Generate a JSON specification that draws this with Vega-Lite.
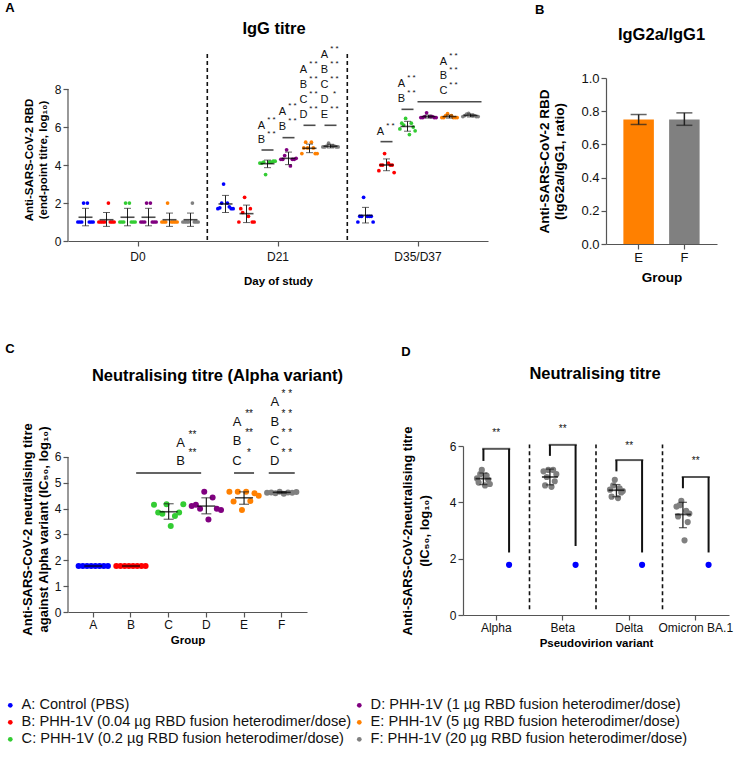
{
"$schema": "https://vega.github.io/schema/vega-lite/v6.json",
"padding": {"left": 3, "top": 1, "right": 2, "bottom": 2},
"datasets": {
"aPts": [
{"d":"D0","g":"A","id":"A1","v":1},{"d":"D0","g":"A","id":"A2","v":1},{"d":"D0","g":"A","id":"A3","v":1},{"d":"D0","g":"A","id":"A4","v":2},{"d":"D0","g":"A","id":"A5","v":2},{"d":"D0","g":"A","id":"A6","v":1},{"d":"D0","g":"A","id":"A7","v":1},{"d":"D0","g":"A","id":"A8","v":1},
{"d":"D0","g":"B","id":"B1","v":1},{"d":"D0","g":"B","id":"B2","v":1},{"d":"D0","g":"B","id":"B3","v":1},{"d":"D0","g":"B","id":"B4","v":1},{"d":"D0","g":"B","id":"B5","v":2},{"d":"D0","g":"B","id":"B6","v":1},{"d":"D0","g":"B","id":"B7","v":1},{"d":"D0","g":"B","id":"B8","v":1},
{"d":"D0","g":"C","id":"C1","v":1},{"d":"D0","g":"C","id":"C2","v":1},{"d":"D0","g":"C","id":"C3","v":1},{"d":"D0","g":"C","id":"C4","v":2},{"d":"D0","g":"C","id":"C5","v":2},{"d":"D0","g":"C","id":"C6","v":1},{"d":"D0","g":"C","id":"C7","v":1},{"d":"D0","g":"C","id":"C8","v":1},
{"d":"D0","g":"D","id":"D1","v":1},{"d":"D0","g":"D","id":"D2","v":1},{"d":"D0","g":"D","id":"D3","v":1},{"d":"D0","g":"D","id":"D4","v":2},{"d":"D0","g":"D","id":"D5","v":2},{"d":"D0","g":"D","id":"D6","v":1},{"d":"D0","g":"D","id":"D7","v":1},{"d":"D0","g":"D","id":"D8","v":1},
{"d":"D0","g":"E","id":"E1","v":1},{"d":"D0","g":"E","id":"E2","v":1},{"d":"D0","g":"E","id":"E3","v":1},{"d":"D0","g":"E","id":"E4","v":2},{"d":"D0","g":"E","id":"E5","v":1},{"d":"D0","g":"E","id":"E6","v":1},{"d":"D0","g":"E","id":"E7","v":1},{"d":"D0","g":"E","id":"E8","v":1},
{"d":"D0","g":"F","id":"F1","v":1},{"d":"D0","g":"F","id":"F2","v":1},{"d":"D0","g":"F","id":"F3","v":1},{"d":"D0","g":"F","id":"F4","v":1},{"d":"D0","g":"F","id":"F5","v":2},{"d":"D0","g":"F","id":"F6","v":1},{"d":"D0","g":"F","id":"F7","v":1},{"d":"D0","g":"F","id":"F8","v":1},
{"d":"D21","g":"A","id":"A1","v":1.7},{"d":"D21","g":"A","id":"A2","v":1.75},{"d":"D21","g":"A","id":"A3","v":2.0},{"d":"D21","g":"A","id":"A4","v":3.0},{"d":"D21","g":"A","id":"A5","v":2.0},{"d":"D21","g":"A","id":"A6","v":1.8},{"d":"D21","g":"A","id":"A7","v":1.7},{"d":"D21","g":"A","id":"A8","v":1.7},
{"d":"D21","g":"B","id":"B1","v":1.0},{"d":"D21","g":"B","id":"B2","v":1.7},{"d":"D21","g":"B","id":"B3","v":1.5},{"d":"D21","g":"B","id":"B4","v":2.3},{"d":"D21","g":"B","id":"B5","v":1.3},{"d":"D21","g":"B","id":"B6","v":1.7},{"d":"D21","g":"B","id":"B7","v":1.0},{"d":"D21","g":"B","id":"B8","v":1.0},
{"d":"D21","g":"C","id":"C1","v":4.1},{"d":"D21","g":"C","id":"C2","v":4.1},{"d":"D21","g":"C","id":"C3","v":4.15},{"d":"D21","g":"C","id":"C4","v":3.5},{"d":"D21","g":"C","id":"C5","v":4.15},{"d":"D21","g":"C","id":"C6","v":4.15},{"d":"D21","g":"C","id":"C7","v":4.2},{"d":"D21","g":"C","id":"C8","v":4.2},
{"d":"D21","g":"D","id":"D1","v":4.3},{"d":"D21","g":"D","id":"D2","v":4.3},{"d":"D21","g":"D","id":"D3","v":4.5},{"d":"D21","g":"D","id":"D4","v":4.8},{"d":"D21","g":"D","id":"D5","v":3.95},{"d":"D21","g":"D","id":"D6","v":4.3},{"d":"D21","g":"D","id":"D7","v":4.3},{"d":"D21","g":"D","id":"D8","v":4.35},
{"d":"D21","g":"E","id":"E1","v":4.6},{"d":"D21","g":"E","id":"E2","v":4.9},{"d":"D21","g":"E","id":"E3","v":5.2},{"d":"D21","g":"E","id":"E4","v":4.9},{"d":"D21","g":"E","id":"E5","v":5.2},{"d":"D21","g":"E","id":"E6","v":4.9},{"d":"D21","g":"E","id":"E7","v":4.6},{"d":"D21","g":"E","id":"E8","v":4.6},
{"d":"D21","g":"F","id":"F1","v":4.95},{"d":"D21","g":"F","id":"F2","v":4.95},{"d":"D21","g":"F","id":"F3","v":5.0},{"d":"D21","g":"F","id":"F4","v":5.15},{"d":"D21","g":"F","id":"F5","v":5.0},{"d":"D21","g":"F","id":"F6","v":5.0},{"d":"D21","g":"F","id":"F7","v":4.95},{"d":"D21","g":"F","id":"F8","v":4.95},
{"d":"D35/D37","g":"A","id":"A1","v":1.0},{"d":"D35/D37","g":"A","id":"A2","v":1.3},{"d":"D35/D37","g":"A","id":"A3","v":1.3},{"d":"D35/D37","g":"A","id":"A4","v":2.3},{"d":"D35/D37","g":"A","id":"A5","v":1.3},{"d":"D35/D37","g":"A","id":"A6","v":1.3},{"d":"D35/D37","g":"A","id":"A7","v":1.3},{"d":"D35/D37","g":"A","id":"A8","v":1.0},
{"d":"D35/D37","g":"B","id":"B1","v":3.7},{"d":"D35/D37","g":"B","id":"B2","v":4.0},{"d":"D35/D37","g":"B","id":"B3","v":4.0},{"d":"D35/D37","g":"B","id":"B4","v":4.6},{"d":"D35/D37","g":"B","id":"B5","v":4.1},{"d":"D35/D37","g":"B","id":"B6","v":4.0},{"d":"D35/D37","g":"B","id":"B7","v":4.0},{"d":"D35/D37","g":"B","id":"B8","v":3.6},
{"d":"D35/D37","g":"C","id":"C1","v":5.9},{"d":"D35/D37","g":"C","id":"C2","v":6.2},{"d":"D35/D37","g":"C","id":"C3","v":6.1},{"d":"D35/D37","g":"C","id":"C4","v":6.45},{"d":"D35/D37","g":"C","id":"C5","v":5.6},{"d":"D35/D37","g":"C","id":"C6","v":6.2},{"d":"D35/D37","g":"C","id":"C7","v":6.0},{"d":"D35/D37","g":"C","id":"C8","v":5.8},
{"d":"D35/D37","g":"D","id":"D1","v":6.5},{"d":"D35/D37","g":"D","id":"D2","v":6.5},{"d":"D35/D37","g":"D","id":"D3","v":6.55},{"d":"D35/D37","g":"D","id":"D4","v":6.75},{"d":"D35/D37","g":"D","id":"D5","v":6.55},{"d":"D35/D37","g":"D","id":"D6","v":6.55},{"d":"D35/D37","g":"D","id":"D7","v":6.5},{"d":"D35/D37","g":"D","id":"D8","v":6.5},
{"d":"D35/D37","g":"E","id":"E1","v":6.5},{"d":"D35/D37","g":"E","id":"E2","v":6.5},{"d":"D35/D37","g":"E","id":"E3","v":6.6},{"d":"D35/D37","g":"E","id":"E4","v":6.7},{"d":"D35/D37","g":"E","id":"E5","v":6.6},{"d":"D35/D37","g":"E","id":"E6","v":6.5},{"d":"D35/D37","g":"E","id":"E7","v":6.5},{"d":"D35/D37","g":"E","id":"E8","v":6.5},
{"d":"D35/D37","g":"F","id":"F1","v":6.55},{"d":"D35/D37","g":"F","id":"F2","v":6.6},{"d":"D35/D37","g":"F","id":"F3","v":6.68},{"d":"D35/D37","g":"F","id":"F4","v":6.72},{"d":"D35/D37","g":"F","id":"F5","v":6.6},{"d":"D35/D37","g":"F","id":"F6","v":6.6},{"d":"D35/D37","g":"F","id":"F7","v":6.55},{"d":"D35/D37","g":"F","id":"F8","v":6.55}
],
"aSum": [
{"d":"D0","g":"A","m":1.25,"lo":0.8,"hi":1.72},{"d":"D0","g":"B","m":1.12,"lo":0.77,"hi":1.5},{"d":"D0","g":"C","m":1.25,"lo":0.8,"hi":1.72},{"d":"D0","g":"D","m":1.25,"lo":0.8,"hi":1.72},{"d":"D0","g":"E","m":1.12,"lo":0.77,"hi":1.47},{"d":"D0","g":"F","m":1.12,"lo":0.77,"hi":1.47},
{"d":"D21","g":"A","m":1.95,"lo":1.5,"hi":2.4},{"d":"D21","g":"B","m":1.44,"lo":0.97,"hi":1.89},{"d":"D21","g":"C","m":4.07,"lo":3.86,"hi":4.26},{"d":"D21","g":"D","m":4.35,"lo":4.02,"hi":4.68},{"d":"D21","g":"E","m":4.88,"lo":4.65,"hi":5.1},{"d":"D21","g":"F","m":4.99,"lo":4.9,"hi":5.09},
{"d":"D35/D37","g":"A","m":1.35,"lo":0.95,"hi":1.77},{"d":"D35/D37","g":"B","m":4.0,"lo":3.7,"hi":4.32},{"d":"D35/D37","g":"C","m":6.03,"lo":5.78,"hi":6.3},{"d":"D35/D37","g":"D","m":6.55,"lo":6.47,"hi":6.63},{"d":"D35/D37","g":"E","m":6.55,"lo":6.47,"hi":6.63},{"d":"D35/D37","g":"F","m":6.61,"lo":6.53,"hi":6.69}
],
"aLet": [
{"d":"D21","g":"C","v":6.05,"t":"A","s":"* *"},{"d":"D21","g":"C","v":5.3,"t":"B","s":"* *"},
{"d":"D21","g":"D","v":6.79,"t":"A","s":"* *"},{"d":"D21","g":"D","v":6.0,"t":"B","s":"* *"},
{"d":"D21","g":"E","v":8.98,"t":"A","s":"* *"},{"d":"D21","g":"E","v":8.21,"t":"B","s":"* *"},{"d":"D21","g":"E","v":7.42,"t":"C","s":"* *"},{"d":"D21","g":"E","v":6.63,"t":"D","s":"* *"},
{"d":"D21","g":"F","v":9.79,"t":"A","s":"* *"},{"d":"D21","g":"F","v":8.98,"t":"B","s":"* *"},{"d":"D21","g":"F","v":8.21,"t":"C","s":"* *"},{"d":"D21","g":"F","v":7.42,"t":"D","s":"*"},{"d":"D21","g":"F","v":6.63,"t":"E","s":"* *"},
{"d":"D35/D37","g":"B","v":5.75,"t":"A","s":"* *"},
{"d":"D35/D37","g":"C","v":8.25,"t":"A","s":"* *"},{"d":"D35/D37","g":"C","v":7.46,"t":"B","s":"* *"},
{"d":"D35/D37","g":"E","v":9.44,"t":"A","s":"* *"},{"d":"D35/D37","g":"E","v":8.68,"t":"B","s":"* *"},{"d":"D35/D37","g":"E","v":7.9,"t":"C","s":"* *"}
],
"dPts": [
{"x":"Alpha","g":"F","id":"F1","v":4.85},{"x":"Alpha","g":"F","id":"F2","v":4.7},{"x":"Alpha","g":"F","id":"F3","v":5.0},{"x":"Alpha","g":"F","id":"F4","v":5.15},{"x":"Alpha","g":"F","id":"F5","v":4.6},{"x":"Alpha","g":"F","id":"F6","v":4.95},{"x":"Alpha","g":"F","id":"F7","v":4.8},{"x":"Alpha","g":"F","id":"F8","v":4.65},{"x":"Alpha","g":"A","id":"A","v":1.78},
{"x":"Beta","g":"F","id":"F1","v":5.1},{"x":"Beta","g":"F","id":"F2","v":4.6},{"x":"Beta","g":"F","id":"F3","v":4.9},{"x":"Beta","g":"F","id":"F4","v":5.15},{"x":"Beta","g":"F","id":"F5","v":4.55},{"x":"Beta","g":"F","id":"F6","v":5.15},{"x":"Beta","g":"F","id":"F7","v":4.75},{"x":"Beta","g":"F","id":"F8","v":5.0},{"x":"Beta","g":"A","id":"A","v":1.78},
{"x":"Delta","g":"F","id":"F1","v":4.45},{"x":"Delta","g":"F","id":"F2","v":4.2},{"x":"Delta","g":"F","id":"F3","v":4.6},{"x":"Delta","g":"F","id":"F4","v":4.8},{"x":"Delta","g":"F","id":"F5","v":4.15},{"x":"Delta","g":"F","id":"F6","v":4.5},{"x":"Delta","g":"F","id":"F7","v":4.35},{"x":"Delta","g":"F","id":"F8","v":4.4},{"x":"Delta","g":"A","id":"A","v":1.78},
{"x":"Omicron BA.1","g":"F","id":"F1","v":3.85},{"x":"Omicron BA.1","g":"F","id":"F2","v":3.5},{"x":"Omicron BA.1","g":"F","id":"F3","v":3.9},{"x":"Omicron BA.1","g":"F","id":"F4","v":4.05},{"x":"Omicron BA.1","g":"F","id":"F5","v":2.65},{"x":"Omicron BA.1","g":"F","id":"F6","v":3.7},{"x":"Omicron BA.1","g":"F","id":"F7","v":3.3},{"x":"Omicron BA.1","g":"F","id":"F8","v":3.6},{"x":"Omicron BA.1","g":"A","id":"A","v":1.78}
],
"dSum": [
{"x":"Alpha","g":"F","m":4.84,"lo":4.63,"hi":5.04},{"x":"Beta","g":"F","m":4.9,"lo":4.62,"hi":5.18},{"x":"Delta","g":"F","m":4.43,"lo":4.2,"hi":4.63},{"x":"Omicron BA.1","g":"F","m":3.57,"lo":3.1,"hi":4.0}
],
"dLegs": [
{"x":"Alpha","g":"F","lo":5.47,"hi":5.9},{"x":"Alpha","g":"A","lo":2.22,"hi":5.9},
{"x":"Beta","g":"F","lo":5.65,"hi":6.04},{"x":"Beta","g":"A","lo":2.45,"hi":6.04},
{"x":"Delta","g":"F","lo":5.1,"hi":5.5},{"x":"Delta","g":"A","lo":2.22,"hi":5.5},
{"x":"Omicron BA.1","g":"F","lo":4.5,"hi":4.9},{"x":"Omicron BA.1","g":"A","lo":2.22,"hi":4.9}
],
"dTop": [
{"x":"Alpha","top":5.9,"sy":6.45,"s":"**"},{"x":"Beta","top":6.04,"sy":6.6,"s":"**"},{"x":"Delta","top":5.5,"sy":6.0,"s":"**"},{"x":"Omicron BA.1","top":4.9,"sy":5.45,"s":"**"}
]
},
"resolve": {"scale": {"xOffset": "independent"}},
"spacing": 56,
"vconcat": [
{
"hconcat": [
{
"title": {"text": "A", "anchor": "start", "dx": -18, "fontSize": 13, "offset": 6},
"vconcat": [
{
"width": 420, "height": 163,
"title": {"text": "IgG titre", "frame": "group", "dx": -4, "offset": 8},
"encoding": {
"x": {"field": "d", "type": "nominal", "scale": {"domain": ["D0", "D21", "D35/D37"], "paddingInner": 0.1, "paddingOuter": 0.05}, "axis": {"title": "Day of study", "titlePadding": 13, "labelPadding": 5}}
},
"layer": [
{"data": {"name": "aPts"}, "mark": {"type": "circle", "size": 14, "opacity": 1},
 "encoding": {
  "xOffset": {"field": "id", "type": "nominal", "scale": {"paddingInner": 0, "paddingOuter": 0, "domain": ["Al","A1","A2","A3","A4","A","A5","A6","A7","A8","Ar","Bl","B1","B2","B3","B4","B","B5","B6","B7","B8","Br","Cl","C1","C2","C3","C4","C","C5","C6","C7","C8","Cr","Dl","D1","D2","D3","D4","D","D5","D6","D7","D8","Dr","El","E1","E2","E3","E4","E","E5","E6","E7","E8","Er","Fl","F1","F2","F3","F4","F","F5","F6","F7","F8","Fr"]}},
  "y": {"field": "v", "type": "quantitative", "scale": {"domain": [0, 8.58], "nice": false}, "axis": {"values": [0, 2, 4, 6, 8], "tickCount": 20, "format": "d", "labelOverlap": false, "domain": false, "title": ["Anti-SARS-CoV-2 RBD", "(end-point titre, log₁₀)"], "titlePadding": 6, "titleLineHeight": 14}},
  "color": {"field": "g", "type": "nominal",
   "legend": {"orient": "none", "legendX": -65, "legendY": 620, "title": null, "columns": 2, "columnPadding": -5, "rowPadding": 2, "labelFontSize": 14.6, "labelOffset": 4, "labelLimit": 480, "symbolType": "circle", "symbolSize": 22, "symbolStrokeWidth": 0, "labelColor": "#111111",
    "labelExpr": "{'A':'A: Control (PBS)','B':'B: PHH-1V (0.04 µg RBD fusion heterodimer/dose)','C':'C: PHH-1V (0.2 µg RBD fusion heterodimer/dose)','D':'D: PHH-1V (1 µg RBD fusion heterodimer/dose)','E':'E: PHH-1V (5 µg RBD fusion heterodimer/dose)','F':'F: PHH-1V (20 µg RBD fusion heterodimer/dose)'}[datum.label]"}}
 }},
{"data": {"values": [{"d": "D0"}]}, "mark": {"type": "rule", "strokeWidth": 1.2, "color": "#555555"},
 "encoding": {"x": {"field": "d", "type": "nominal", "bandPosition": -0.0556}, "y": {"datum": 0}, "y2": {"datum": 8}}},
{"data": {"values": [{"d": "D0"}, {"d": "D21"}]}, "mark": {"type": "rule", "strokeDash": [4, 3], "strokeWidth": 1.6, "color": "#111111"},
 "encoding": {"x": {"field": "d", "type": "nominal", "bandPosition": 1.05}, "y": {"datum": 0.05}, "y2": {"datum": 10}}},
{"data": {"name": "aSum"}, "mark": {"type": "rule", "color": "#222222", "strokeWidth": 1},
 "encoding": {"xOffset": {"field": "g", "type": "nominal"}, "y": {"field": "lo", "type": "quantitative"}, "y2": {"field": "hi"}}},
{"data": {"name": "aSum"}, "mark": {"type": "tick", "color": "#222222", "size": 7, "thickness": 1},
 "encoding": {"xOffset": {"field": "g", "type": "nominal"}, "y": {"field": "lo", "type": "quantitative"}}},
{"data": {"name": "aSum"}, "mark": {"type": "tick", "color": "#222222", "size": 7, "thickness": 1},
 "encoding": {"xOffset": {"field": "g", "type": "nominal"}, "y": {"field": "hi", "type": "quantitative"}}},
{"data": {"name": "aSum"}, "mark": {"type": "tick", "color": "#000000", "size": 14, "thickness": 1.6},
 "encoding": {"xOffset": {"field": "g", "type": "nominal"}, "y": {"field": "m", "type": "quantitative"}}},
{"data": {"values": [{"d":"D21","g":"C","v":4.79},{"d":"D21","g":"D","v":5.44},{"d":"D21","g":"E","v":6.09},{"d":"D21","g":"F","v":6.09},{"d":"D35/D37","g":"B","v":5.23},{"d":"D35/D37","g":"C","v":6.93}]},
 "mark": {"type": "tick", "color": "#000000", "size": 12, "thickness": 1.6},
 "encoding": {"xOffset": {"field": "g", "type": "nominal"}, "y": {"field": "v", "type": "quantitative"}}},
{"data": {"values": [{"d":"D35/D37","g":"E","v":7.33}]},
 "mark": {"type": "tick", "color": "#000000", "size": 64, "thickness": 1.6},
 "encoding": {"xOffset": {"field": "g", "type": "nominal"}, "y": {"field": "v", "type": "quantitative"}}},
{"data": {"name": "aLet"}, "mark": {"type": "text", "fontSize": 11, "dx": -6, "baseline": "middle", "color": "#111111"},
 "encoding": {"xOffset": {"field": "g", "type": "nominal"}, "y": {"field": "v", "type": "quantitative"}, "text": {"field": "t"}}},
{"data": {"name": "aLet"}, "mark": {"type": "text", "fontSize": 8, "dx": 4, "dy": -6, "baseline": "middle", "color": "#111111"},
 "encoding": {"xOffset": {"field": "g", "type": "nominal"}, "y": {"field": "v", "type": "quantitative"}, "text": {"field": "s"}}}
]
}
]
},
{
"title": {"text": "B", "anchor": "start", "dx": -3, "fontSize": 13, "offset": 10},
"vconcat": [
{
"width": 111, "height": 166,
"title": {"text": "IgG2a/IgG1", "frame": "group", "offset": 29},
"data": {"values": [{"g": "E", "m": 0.75, "lo": 0.72, "hi": 0.78}, {"g": "F", "m": 0.75, "lo": 0.715, "hi": 0.79}]},
"encoding": {
"x": {"field": "g", "type": "nominal", "scale": {"paddingInner": 0.333, "paddingOuter": 0.38}, "axis": {"title": "Group", "titlePadding": 6, "labelFontSize": 13, "titleFontSize": 13.5}}
},
"layer": [
{"mark": {"type": "bar"},
 "encoding": {"y": {"field": "m", "type": "quantitative", "scale": {"domain": [0, 1]}, "axis": {"values": [0, 0.2, 0.4, 0.6, 0.8, 1.0], "tickCount": 20, "labelOverlap": false, "format": ".1f", "title": ["Anti-SARS-CoV-2 RBD", "(IgG2a/IgG1, ratio)"], "titlePadding": 14, "labelFontSize": 13, "titleFontSize": 13.5, "titleLineHeight": 15}},
  "color": {"field": "g", "type": "nominal", "legend": null}}},
{"mark": {"type": "rule", "color": "#222222", "strokeWidth": 1.5}, "encoding": {"y": {"field": "lo", "type": "quantitative"}, "y2": {"field": "hi"}}},
{"mark": {"type": "tick", "color": "#222222", "size": 16, "thickness": 1.5}, "encoding": {"y": {"field": "lo", "type": "quantitative"}}},
{"mark": {"type": "tick", "color": "#222222", "size": 16, "thickness": 1.5}, "encoding": {"y": {"field": "hi", "type": "quantitative"}}}
]
}
]
}
],
"spacing": 46,
"resolve": {"scale": {"xOffset": "independent"}}
},
{
"hconcat": [
{
"title": {"text": "C", "anchor": "start", "dx": -16, "fontSize": 13, "offset": 12},
"vconcat": [
{
"width": 239, "height": 166,
"title": {"text": "Neutralising titre (Alpha variant)", "frame": "group", "dx": 30, "offset": 4},
"encoding": {
"x": {"field": "g", "type": "nominal", "scale": {"domain": ["A", "B", "C", "D", "E", "F"], "paddingInner": 0, "paddingOuter": 0.17}, "axis": {"title": "Group", "titlePadding": 4}}
},
"layer": [
{"data": {"values": [
{"g":"A","a":1,"v":1.78},{"g":"A","a":2,"v":1.78},{"g":"A","a":3,"v":1.78},{"g":"A","a":4,"v":1.78},{"g":"A","a":5,"v":1.78},{"g":"A","a":6,"v":1.78},{"g":"A","a":7,"v":1.78},{"g":"A","a":8,"v":1.78},
{"g":"B","a":1,"v":1.78},{"g":"B","a":2,"v":1.78},{"g":"B","a":3,"v":1.78},{"g":"B","a":4,"v":1.78},{"g":"B","a":5,"v":1.78},{"g":"B","a":6,"v":1.78},{"g":"B","a":7,"v":1.78},{"g":"B","a":8,"v":1.78},
{"g":"C","a":1,"v":4.15},{"g":"C","a":2,"v":3.85},{"g":"C","a":3,"v":3.8},{"g":"C","a":4,"v":4.17},{"g":"C","a":5,"v":3.33},{"g":"C","a":6,"v":3.72},{"g":"C","a":7,"v":3.85},{"g":"C","a":8,"v":4.17},
{"g":"D","a":1,"v":4.1},{"g":"D","a":2,"v":4.15},{"g":"D","a":3,"v":4.0},{"g":"D","a":4,"v":4.65},{"g":"D","a":5,"v":3.58},{"g":"D","a":6,"v":4.43},{"g":"D","a":7,"v":4.0},{"g":"D","a":8,"v":3.95},
{"g":"E","a":1,"v":4.65},{"g":"E","a":2,"v":4.28},{"g":"E","a":3,"v":4.65},{"g":"E","a":4,"v":3.95},{"g":"E","a":5,"v":4.65},{"g":"E","a":6,"v":4.3},{"g":"E","a":7,"v":4.6},{"g":"E","a":8,"v":4.5},
{"g":"F","a":1,"v":4.62},{"g":"F","a":2,"v":4.63},{"g":"F","a":3,"v":4.6},{"g":"F","a":4,"v":4.65},{"g":"F","a":5,"v":4.58},{"g":"F","a":6,"v":4.63},{"g":"F","a":7,"v":4.62},{"g":"F","a":8,"v":4.64}
]},
 "mark": {"type": "circle", "size": 36, "opacity": 1},
 "encoding": {
  "xOffset": {"field": "a", "type": "ordinal", "scale": {"paddingInner": 0, "paddingOuter": 2}},
  "y": {"field": "v", "type": "quantitative", "scale": {"domain": [0, 6.425], "nice": false}, "axis": {"values": [0, 1, 2, 3, 4, 5, 6], "tickCount": 20, "format": "d", "labelOverlap": false, "domain": false, "title": ["Anti-SARS-CoV-2 neutralising titre", "against Alpha variant (IC₅₀, log₁₀)"], "titlePadding": 4, "titleFontSize": 13, "titleLineHeight": 16}},
  "color": {"field": "g", "type": "nominal",
   "scale": {"domain": ["A", "B", "C", "D", "E", "F"], "range": ["#0000ff", "#ff0000", "#33cc33", "#800080", "#ff8000", "#808080"]},
   "legend": {"orient": "none", "legendX": -65, "legendY": 620, "title": null, "columns": 2, "columnPadding": -5, "rowPadding": 2, "labelFontSize": 14.6, "labelOffset": 4, "labelLimit": 480, "symbolType": "circle", "symbolSize": 22, "symbolStrokeWidth": 0, "labelColor": "#111111",
    "labelExpr": "{'A':'A: Control (PBS)','B':'B: PHH-1V (0.04 µg RBD fusion heterodimer/dose)','C':'C: PHH-1V (0.2 µg RBD fusion heterodimer/dose)','D':'D: PHH-1V (1 µg RBD fusion heterodimer/dose)','E':'E: PHH-1V (5 µg RBD fusion heterodimer/dose)','F':'F: PHH-1V (20 µg RBD fusion heterodimer/dose)'}[datum.label]"}}
 }},
{"data": {"values": [{"g": "A"}]}, "mark": {"type": "rule", "strokeWidth": 1.2, "color": "#555555"},
 "encoding": {"x": {"field": "g", "type": "nominal", "bandPosition": -0.17}, "y": {"datum": 0}, "y2": {"datum": 6}}},
{"data": {"values": [{"g":"C","m":3.88,"lo":3.59,"hi":4.19},{"g":"D","m":4.1,"lo":3.8,"hi":4.42},{"g":"E","m":4.42,"lo":4.17,"hi":4.65},{"g":"F","m":4.63,"lo":4.6,"hi":4.66}]},
 "layer": [
  {"mark": {"type": "rule", "color": "#222222", "strokeWidth": 1.2}, "encoding": {"y": {"field": "lo", "type": "quantitative"}, "y2": {"field": "hi"}}},
  {"mark": {"type": "tick", "color": "#222222", "size": 10, "thickness": 1.2}, "encoding": {"y": {"field": "lo", "type": "quantitative"}}},
  {"mark": {"type": "tick", "color": "#222222", "size": 10, "thickness": 1.2}, "encoding": {"y": {"field": "hi", "type": "quantitative"}}}
 ]},
{"data": {"values": [{"g":"A","m":1.78},{"g":"B","m":1.78},{"g":"C","m":3.88},{"g":"D","m":4.1},{"g":"E","m":4.42},{"g":"F","m":4.63}]},
 "mark": {"type": "tick", "color": "#000000", "size": 18, "thickness": 1.6}, "encoding": {"y": {"field": "m", "type": "quantitative"}}},
{"data": {"values": [{"g":"C","v":5.38}]}, "mark": {"type": "tick", "color": "#222222", "size": 65, "thickness": 2}, "encoding": {"x": {"field": "g", "type": "nominal", "bandPosition": 1}, "y": {"field": "v", "type": "quantitative"}}},
{"data": {"values": [{"g":"E","v":5.38}]}, "mark": {"type": "tick", "color": "#222222", "size": 20, "thickness": 2}, "encoding": {"y": {"field": "v", "type": "quantitative"}}},
{"data": {"values": [{"g":"F","v":5.38}]}, "mark": {"type": "tick", "color": "#222222", "size": 26, "thickness": 2}, "encoding": {"y": {"field": "v", "type": "quantitative"}}},
{"data": {"values": [{"g":"C","v":6.54,"t":"A","s":"**"},{"g":"C","v":5.83,"t":"B","s":"**"}]},
 "layer": [
  {"mark": {"type": "text", "fontSize": 13, "dx": -7, "baseline": "middle", "color": "#111111"}, "encoding": {"x": {"field": "g", "type": "nominal", "bandPosition": 1}, "y": {"field": "v", "type": "quantitative"}, "text": {"field": "t"}}},
  {"mark": {"type": "text", "fontSize": 10, "dx": 5, "dy": -8, "baseline": "middle", "color": "#111111"}, "encoding": {"x": {"field": "g", "type": "nominal", "bandPosition": 1}, "y": {"field": "v", "type": "quantitative"}, "text": {"field": "s"}}}
 ]},
{"data": {"values": [{"g":"E","v":7.37,"t":"A","s":"**"},{"g":"E","v":6.6,"t":"B","s":"**"},{"g":"E","v":5.83,"t":"C","s":"*"},{"g":"F","v":8.14,"t":"A","s":"* *"},{"g":"F","v":7.37,"t":"B","s":"* *"},{"g":"F","v":6.6,"t":"C","s":"* *"},{"g":"F","v":5.83,"t":"D","s":"* *"}]},
 "layer": [
  {"mark": {"type": "text", "fontSize": 13, "dx": -7, "baseline": "middle", "color": "#111111"}, "encoding": {"y": {"field": "v", "type": "quantitative"}, "text": {"field": "t"}}},
  {"mark": {"type": "text", "fontSize": 10, "dx": 5, "dy": -8, "baseline": "middle", "color": "#111111"}, "encoding": {"y": {"field": "v", "type": "quantitative"}, "text": {"field": "s"}}}
 ]}
]
}
]
},
{
"title": {"text": "D", "anchor": "start", "dx": 0, "fontSize": 13, "offset": 7},
"vconcat": [
{
"width": 266, "height": 169,
"title": {"text": "Neutralising titre", "frame": "group", "dx": -1, "offset": 42},
"encoding": {
"x": {"field": "x", "type": "nominal", "scale": {"domain": ["Alpha", "Beta", "Delta", "Omicron BA.1"], "paddingInner": 0, "paddingOuter": 0}, "axis": {"title": "Pseudovirion variant", "titlePadding": 4}}
},
"layer": [
{"data": {"values": [{"x": "Beta"}, {"x": "Delta"}, {"x": "Omicron BA.1"}]}, "mark": {"type": "rule", "strokeDash": [4, 3], "strokeWidth": 1.6, "color": "#111111"},
 "encoding": {"x": {"field": "x", "type": "nominal", "bandPosition": 0}, "y": {"datum": 0.2}, "y2": {"datum": 6.05}}},
{"data": {"name": "dPts"}, "mark": {"type": "circle", "size": 38, "opacity": 1},
 "encoding": {
  "xOffset": {"field": "id", "type": "nominal", "scale": {"paddingInner": 0, "paddingOuter": 0.23, "domain": ["l1","l2","l3","l4","l5","l6","l7","l8","F1","F2","F3","F4","F","F5","F6","F7","F8","m1","m2","m3","m4","m5","m6","m7","m8","m9","m10","m11","A","t1","t2","t3","t4","t5","t6","t7","t8","t9","t10","t11","t12"]}},
  "y": {"field": "v", "type": "quantitative", "scale": {"domain": [0, 6]}, "axis": {"values": [0, 2, 4, 6], "tickCount": 20, "format": "d", "labelOverlap": false, "title": ["Anti-SARS-CoV-2neutralising titre", "(IC₅₀, log₁₀)"], "titlePadding": 18, "titleFontSize": 13, "titleLineHeight": 17}},
  "color": {"field": "g", "type": "nominal", "legend": null}
 }},
{"data": {"name": "dSum"}, "mark": {"type": "rule", "color": "#222222", "strokeWidth": 1.3},
 "encoding": {"xOffset": {"field": "g", "type": "nominal"}, "y": {"field": "lo", "type": "quantitative"}, "y2": {"field": "hi"}}},
{"data": {"name": "dSum"}, "mark": {"type": "tick", "color": "#222222", "size": 8, "thickness": 1.3},
 "encoding": {"xOffset": {"field": "g", "type": "nominal"}, "y": {"field": "lo", "type": "quantitative"}}},
{"data": {"name": "dSum"}, "mark": {"type": "tick", "color": "#222222", "size": 8, "thickness": 1.3},
 "encoding": {"xOffset": {"field": "g", "type": "nominal"}, "y": {"field": "hi", "type": "quantitative"}}},
{"data": {"name": "dSum"}, "mark": {"type": "tick", "color": "#000000", "size": 16, "thickness": 1.8},
 "encoding": {"xOffset": {"field": "g", "type": "nominal"}, "y": {"field": "m", "type": "quantitative"}}},
{"data": {"name": "dLegs"}, "mark": {"type": "rule", "color": "#111111", "strokeWidth": 2},
 "encoding": {"xOffset": {"field": "g", "type": "nominal"}, "y": {"field": "lo", "type": "quantitative"}, "y2": {"field": "hi"}}},
{"data": {"name": "dTop"}, "mark": {"type": "tick", "color": "#111111", "size": 28, "thickness": 2},
 "encoding": {"y": {"field": "top", "type": "quantitative"}}},
{"data": {"name": "dTop"}, "mark": {"type": "text", "fontSize": 10, "baseline": "middle", "color": "#111111"},
 "encoding": {"y": {"field": "sy", "type": "quantitative"}, "text": {"field": "s"}}}
]
}
]
}
],
"spacing": 57,
"resolve": {"scale": {"xOffset": "independent"}}
}
],
"config": {
"font": "Liberation Sans",
"view": {"stroke": null},
"axis": {"grid": false, "labelOverlap": false, "domainColor": "#555555", "tickColor": "#555555", "domainWidth": 1.2, "tickWidth": 1.2, "tickSize": 5, "labelColor": "#111111", "labelFontSize": 12, "titleFontSize": 11.5, "titleFontWeight": "bold", "titleColor": "#000000", "labelPadding": 2},
"axisX": {"labelAngle": 0},
"title": {"fontSize": 16.5, "fontWeight": "bold", "color": "#000000"}
}
}
